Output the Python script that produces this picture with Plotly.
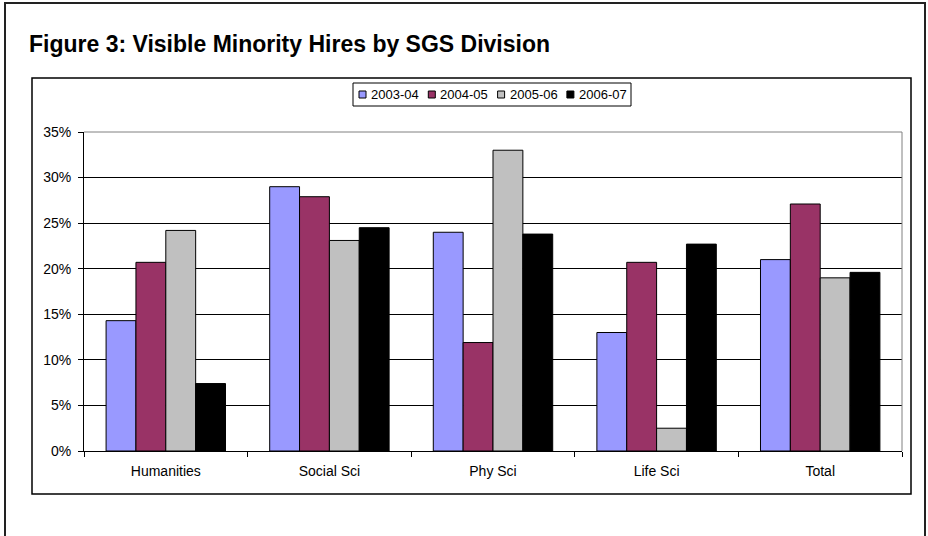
import plotly.graph_objects as go

categories = ["Humanities", "Social Sci", "Phy Sci", "Life Sci", "Total"]
s_2003_04 = [0.143, 0.290, 0.240, 0.130, 0.210]
s_2004_05 = [0.207, 0.279, 0.119, 0.207, 0.271]
s_2005_06 = [0.242, 0.231, 0.330, 0.025, 0.190]
s_2006_07 = [0.074, 0.245, 0.238, 0.227, 0.196]
series_names = ["2003-04", "2004-05", "2005-06", "2006-07"]
series_colors = ["#9999FF", "#993366", "#C0C0C0", "#000000"]
y_ticks = [0, 0.05, 0.10, 0.15, 0.20, 0.25, 0.30, 0.35]
title_text = "Figure 3: Visible Minority Hires by SGS Division"

W, H = 928, 536
L, R, T, B = 84, 26, 132, 85
pw, ph = W - L - R, H - T - B
FONT = "Liberation Sans, Arial, sans-serif"


def px(x):
    return (x - L) / pw


def py(y):
    return (H - B - y) / ph


fig = go.Figure()
for name, vals, col in zip(series_names, [s_2003_04, s_2004_05, s_2005_06, s_2006_07], series_colors):
    fig.add_trace(go.Bar(
        x=categories, y=vals, name=name,
        marker=dict(color=col, line=dict(color="#000000", width=1)),
    ))

shapes = [
    # outer frame
    dict(type="rect", xref="paper", yref="paper", x0=px(5), x1=px(925), y0=py(560), y1=py(3),
         line=dict(color="#222222", width=2), layer="below"),
    # chart box
    dict(type="rect", xref="paper", yref="paper", x0=px(32), x1=px(911), y0=py(494), y1=py(78),
         line=dict(color="#000000", width=1.5), layer="below"),
    # plot-area border top and right (gray)
    dict(type="line", xref="paper", yref="paper", x0=0, x1=1, y0=1, y1=1,
         line=dict(color="#808080", width=1)),
    dict(type="line", xref="paper", yref="paper", x0=1, x1=1, y0=0, y1=1,
         line=dict(color="#808080", width=1)),
    # legend box
    dict(type="rect", xref="paper", yref="paper", x0=px(353), x1=px(631), y0=py(106), y1=py(83),
         line=dict(color="#000000", width=1), fillcolor="white"),
]

annotations = [dict(
    text="<b>" + title_text + "</b>",
    xref="paper", yref="paper", x=px(27), y=py(44), xanchor="left", yanchor="middle",
    showarrow=False, font=dict(size=23, family=FONT, color="#000000"),
)]

# legend entries (swatch + label) built from the series lists
leg_x0, leg_step, leg_cy, sw = 359, 69.3, 94.5, 7
for i, (name, col) in enumerate(zip(series_names, series_colors)):
    sx = leg_x0 + i * leg_step
    shapes.append(dict(type="rect", xref="paper", yref="paper",
                       x0=px(sx), x1=px(sx + sw), y0=py(leg_cy + sw / 2), y1=py(leg_cy - sw / 2),
                       fillcolor=col, line=dict(color="#000000", width=1)))
    annotations.append(dict(text=name, xref="paper", yref="paper",
                            x=px(sx + sw + 3), y=py(leg_cy), xanchor="left", yanchor="middle",
                            showarrow=False, font=dict(size=13, family=FONT, color="#000000")))

fig.update_layout(
    width=W, height=H,
    margin=dict(l=L, r=R, t=T, b=B, autoexpand=False),
    paper_bgcolor="white", plot_bgcolor="white",
    barmode="group", bargap=0.27, bargroupgap=0,
    font=dict(family=FONT, color="#000000", size=14),
    showlegend=False,
    xaxis=dict(
        showgrid=False, showline=True, linecolor="#000000", linewidth=1,
        ticks="outside", ticklen=5, tickcolor="#000000", tickson="boundaries",
        tickfont=dict(size=14), ticklabelstandoff=7, fixedrange=True,
    ),
    yaxis=dict(
        range=[0, 0.35], tickvals=y_ticks, tickformat=".0%",
        showgrid=True, gridcolor="#000000", gridwidth=1,
        showline=True, linecolor="#000000", linewidth=1,
        ticks="outside", ticklen=5, tickcolor="#000000",
        tickfont=dict(size=14), ticklabelstandoff=4, zeroline=False, fixedrange=True,
    ),
    annotations=annotations,
    shapes=shapes,
)

fig.write_html("out.html", config={"displayModeBar": False},
               post_script="document.body.style.margin='0px';")
